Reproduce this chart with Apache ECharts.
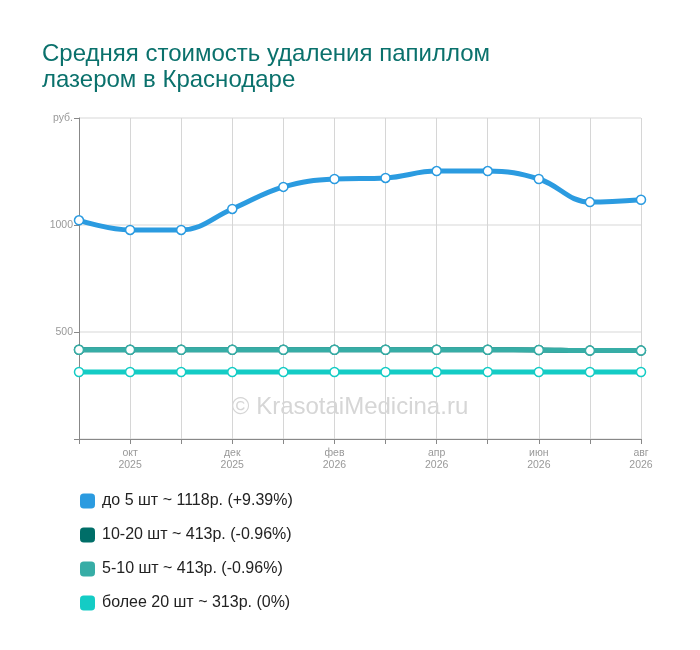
<!DOCTYPE html>
<html><head><meta charset="utf-8">
<script src="https://cdn.jsdelivr.net/npm/echarts@6/dist/echarts.min.js"></script>
<style>html,body{margin:0;padding:0;background:#fff}#c{width:700px;height:650px}</style>
</head><body><div id="c"></div>
<script>
const months = ['сен\n2025','окт\n2025','ноя\n2025','дек\n2025','янв\n2026','фев\n2026','мар\n2026','апр\n2026','май\n2026','июн\n2026','июл\n2026','авг\n2026'];
const upTo5 = [1022, 977, 977, 1075, 1178, 1215, 1220, 1252, 1252, 1215, 1107, 1118];
const from10to20 = [417, 417, 417, 417, 417, 417, 417, 417, 417, 416, 413, 413];
const from5to10 = [417, 417, 417, 417, 417, 417, 417, 417, 417, 416, 413, 413];
const over20 = [313, 313, 313, 313, 313, 313, 313, 313, 313, 313, 313, 313];
const seriesNames = ['до 5 шт ~ 1118р. (+9.39%)','10-20 шт ~ 413р. (-0.96%)','5-10 шт ~ 413р. (-0.96%)','более 20 шт ~ 313р. (0%)'];
const colors = ['#2b9be0','#006e68','#37ada6','#14ccc5'];
const datas = [upTo5, from10to20, from5to10, over20];

const chart = echarts.init(document.getElementById('c'));
const font = 'Liberation Sans, Arial, sans-serif';
chart.setOption({
  animation:false,
  color: colors,
  title:{text:'Средняя стоимость удаления папиллом\nлазером в Краснодаре', left:37, top:36,
    textStyle:{color:'#0a716c', fontSize:24, fontWeight:'normal', fontFamily:font, lineHeight:26}},
  graphic:[{type:'text', left:'center', top:395, style:{text:'© KrasotaiMedicina.ru', fill:'#d6d6d6', fontSize:24, fontFamily:font}}],
  legend:{orient:'vertical', left:75, top:488, itemGap:18, itemWidth:15, itemHeight:15, icon:'roundRect',
    textStyle:{fontSize:16, color:'#222', fontFamily:font, padding:[0,0,0,2]},
    data: seriesNames.map((n,i)=>({name:n, itemStyle:{color:colors[i], borderWidth:0}}))},
  grid:{left:79, right:59, top:118, bottom:211, containLabel:false},
  xAxis:{type:'category', boundaryGap:false, data:months,
    axisLine:{lineStyle:{color:'#888'}},
    axisTick:{show:true, interval:0, length:5, lineStyle:{color:'#888'}},
    axisLabel:{interval:function(i){return i%2===1;}, color:'#999', fontSize:10.5, fontFamily:font, lineHeight:12, margin:8},
    splitLine:{show:true, interval:0, lineStyle:{color:'#d6d6d6'}}},
  yAxis:{type:'value', min:0, max:1500, interval:500,
    axisLine:{show:true, lineStyle:{color:'#888'}},
    axisTick:{show:true, length:5, lineStyle:{color:'#888'}},
    axisLabel:{color:'#999', fontSize:10.5, fontFamily:font, margin:6,
      formatter:function(v){ if(v===1500) return 'руб.'; if(v===0) return ''; return v; }},
    splitLine:{show:true, lineStyle:{color:'#e4e4e4', width:1.5}}},
  series: datas.map((d,i)=>({
    name: seriesNames[i], type:'line', data:d, smooth:0.4,
    symbol:'circle', symbolSize:9, showSymbol:true,
    lineStyle:{width:5, color:colors[i]},
    itemStyle:{color:'#fff', borderColor:colors[i], borderWidth:1.5},
    z: i===1 ? 2 : 3
  }))
});
</script></body></html>
